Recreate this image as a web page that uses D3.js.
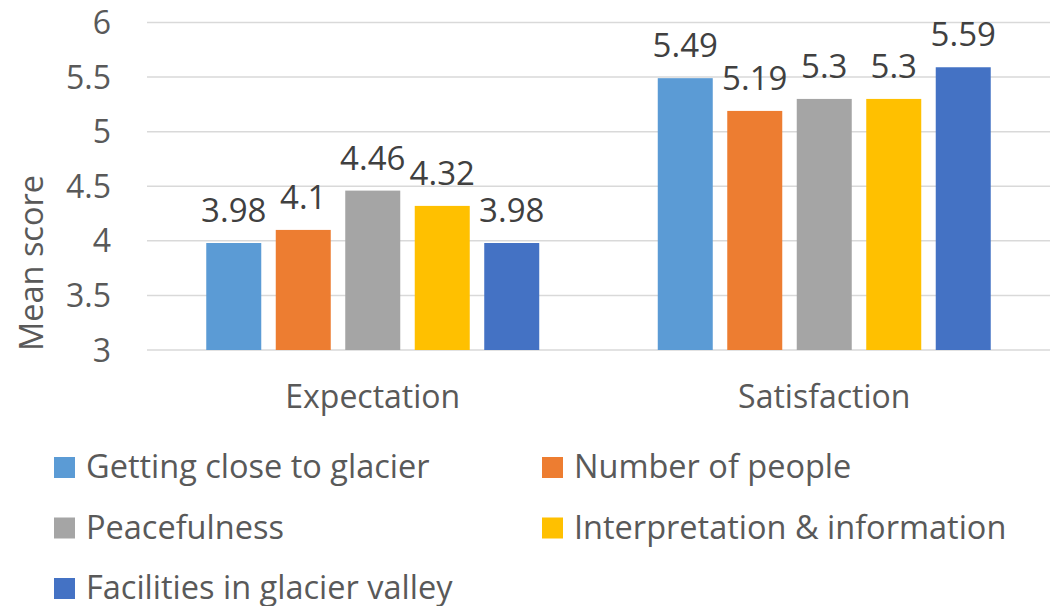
<!DOCTYPE html>
<html>
<head>
<meta charset="utf-8">
<script src="https://cdn.jsdelivr.net/npm/d3@7"></script>
<style>
  body { margin: 0; background: #fff; }
  text { font-family: "Open Sans", "Noto Sans", sans-serif; }
</style>
</head>
<body>
<div id="chart"></div>
<script>

// Data

var categories = ['Expectation', 'Satisfaction'];
var seriesNames = ['Getting close to glacier', 'Number of people', 'Peacefulness', 'Interpretation & information', 'Facilities in glacier valley'];
var expectationValues = [3.98, 4.1, 4.46, 4.32, 3.98];
var satisfactionValues = [5.49, 5.19, 5.3, 5.3, 5.59];
var yTicks = [3, 3.5, 4, 4.5, 5, 5.5, 6];
var colors = ['#5B9BD5', '#ED7D31', '#A5A5A5', '#FFC000', '#4472C4'];

var values = { 'Expectation': expectationValues, 'Satisfaction': satisfactionValues };

// Dimensions

var width = 1052;
var height = 606;
var plot = { left: 147, right: 1050, top: 22.5, bottom: 350 };

var svg = d3.select('#chart').append('svg')
    .attr('width', width)
    .attr('height', height);

// Scales

var y = d3.scaleLinear()
    .domain([3, 6])
    .range([plot.bottom, plot.top]);

var x0 = d3.scaleBand()
    .domain(categories)
    .range([plot.left, plot.right])
    .paddingInner(0.2625)
    .paddingOuter(0.13125);

var x1 = d3.scaleBand()
    .domain(seriesNames)
    .range([0, x0.bandwidth()])
    .paddingInner(0.2086);

var color = d3.scaleOrdinal()
    .domain(seriesNames)
    .range(colors);

// Gridlines and y tick labels

svg.append('g')
  .selectAll('line')
  .data(yTicks)
  .enter()
  .append('line')
    .attr('x1', plot.left)
    .attr('x2', plot.right)
    .attr('y1', function(d) { return y(d); })
    .attr('y2', function(d) { return y(d); })
    .attr('stroke', '#d9d9d9')
    .attr('stroke-width', 1.5);

svg.append('g')
  .selectAll('text')
  .data(yTicks)
  .enter()
  .append('text')
    .attr('x', 111)
    .attr('y', function(d) { return y(d); })
    .attr('dy', '0.36em')
    .attr('text-anchor', 'end')
    .attr('font-size', 32)
    .attr('fill', '#595959')
    .text(function(d) { return d; });

// Axis title

svg.append('text')
    .attr('transform', 'translate(43,' + 263 + ') rotate(-90)')
    .attr('text-anchor', 'middle')
    .attr('font-size', 32.5)
    .attr('fill', '#595959')
    .text('Mean score');

// Bars

var groups = svg.selectAll('.group')
    .data(categories)
    .enter()
    .append('g')
    .attr('class', 'group')
    .attr('transform', function(d) { return 'translate(' + x0(d) + ',0)'; });

var cells = groups.selectAll('.cell')
    .data(function(c) {
      return seriesNames.map(function(s, i) { return { series: s, value: values[c][i] }; });
    })
    .enter()
    .append('g')
    .attr('class', 'cell');

cells.append('rect')
    .attr('x', function(d) { return x1(d.series); })
    .attr('y', function(d) { return y(d.value); })
    .attr('width', x1.bandwidth())
    .attr('height', function(d) { return y(3) - y(d.value); })
    .attr('fill', function(d) { return color(d.series); });

cells.append('text')
    .attr('x', function(d) { return x1(d.series) + x1.bandwidth() / 2; })
    .attr('y', function(d) { return y(d.value) - 21; })
    .attr('text-anchor', 'middle')
    .attr('font-size', 33)
    .attr('fill', '#404040')
    .text(function(d) { return d.value; });

// Category labels

svg.append('g')
  .selectAll('text')
  .data(categories)
  .enter()
  .append('text')
    .attr('x', function(d) { return x0(d) + x0.bandwidth() / 2; })
    .attr('y', 408)
    .attr('text-anchor', 'middle')
    .attr('font-size', 32)
    .attr('fill', '#595959')
    .text(function(d) { return d; });

// Legend

var legend = svg.append('g')
    .selectAll('g')
    .data(seriesNames)
    .enter()
    .append('g')
    .attr('transform', function(d, i) {
      return 'translate(' + (i % 2 === 0 ? 54 : 542) + ',' + (478 + Math.floor(i / 2) * 60.5) + ')';
    });

legend.append('rect')
    .attr('x', 0)
    .attr('y', -21)
    .attr('width', 21)
    .attr('height', 21)
    .attr('fill', function(d) { return color(d); });

legend.append('text')
    .attr('x', 32)
    .attr('y', 0)
    .attr('font-size', 32.5)
    .attr('fill', '#595959')
    .text(function(d) { return d; });

</script>
</body>
</html>
